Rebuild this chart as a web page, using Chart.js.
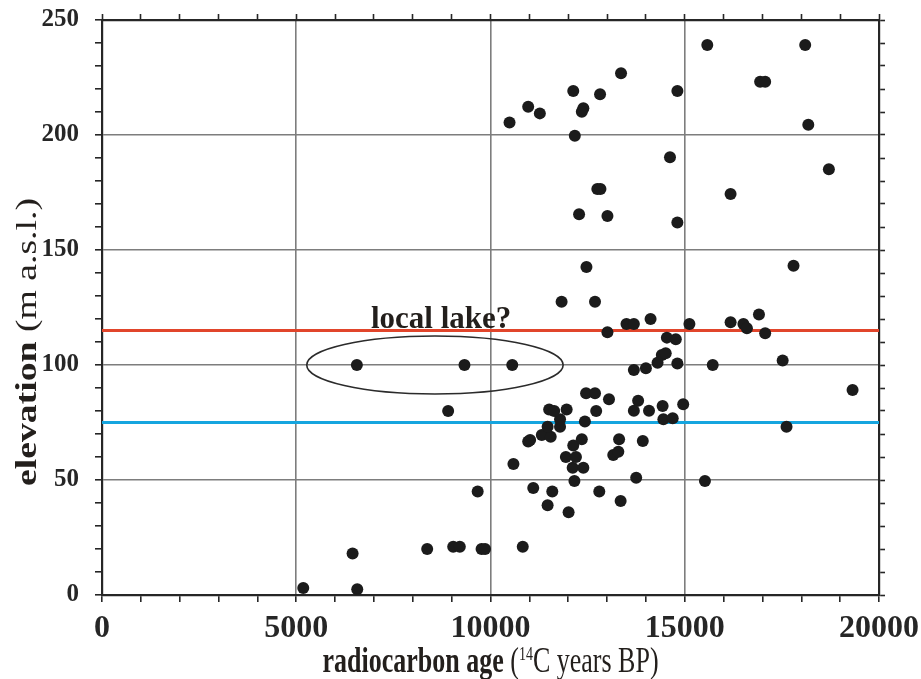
<!DOCTYPE html>
<html lang="en">
<head>
<meta charset="UTF-8">
<title>Radiocarbon age vs elevation</title>
<script src="https://cdn.jsdelivr.net/npm/chart.js"></script>
<style>
  html, body { margin: 0; padding: 0; background: #fff; }
  #wrap { width: 921px; height: 679px; }
</style>
</head>
<body>
<div id="wrap"><canvas id="grafico"></canvas></div>
<script>
// radiocarbon ages (14C years BP) and elevations (m a.s.l.)
const idades = [
  5180, 6570, 6450, 8370, 9040, 9210, 9770, 9860, 10830,
  6560, 9330, 10560, 8910, 9670, 10590, 11100, 11590, 11470, 12010, 12800,
  12160, 12115, 12390, 11940, 12200, 12130, 12350, 11020, 10970, 11320,
  11550, 11470, 11790, 11790, 12430, 11510, 11640, 11960, 12720, 12460,
  12690, 11830, 12690, 12470, 12280, 13010, 14810, 12750, 12830, 14620,
  12170, 10490, 10970, 11270, 12130, 12390, 12350, 12820, 13360, 14810,
  15580, 18100, 16940, 17070, 18180, 18710, 16180, 17800, 13010, 13500,
  13690, 14120, 15120, 16180, 16510, 16600, 16910, 17070, 14540, 14770,
  14410, 14510, 14300, 14810, 14000, 13690, 15720, 17520, 19320, 14960,
  13050, 13800, 13690, 14080, 14430, 14450, 14690, 17620, 13310, 13920,
  13160, 13290, 13750, 15520, 13350
];
const elevacoes = [
  3, 2.5, 18, 20, 21, 21, 20, 20, 21,
  100, 100, 100, 80, 45, 57, 46.5, 45, 39, 36, 45,
  49.6, 55.3, 55.3, 60, 60, 65, 67.7, 67.4, 66.7, 69.6,
  68.8, 73.2, 73.2, 76.4, 75.4, 80.7, 80, 80.7, 80, 87.7,
  87.7, 127.5, 127.5, 142.6, 165.5, 164.8, 162, 176.5, 176.5, 190.3,
  199.7, 205.4, 212.3, 209.4, 219.1, 211.6, 210.1, 217.7, 226.8, 219.1,
  239.1, 239.1, 223.2, 223.2, 204.5, 185.1, 174.3, 143.2, 114.2, 117.8,
  117.8, 120, 117.8, 118.6, 117.8, 116, 122, 113.8, 111.9, 111.2,
  104.3, 105.1, 101, 100.7, 98.6, 97.8, 100, 102, 89.1, 82.9,
  85.1, 84.5, 80.1, 80.1, 82.2, 76.4, 76.8, 73.2, 67.7, 67,
  60.9, 62.3, 51, 49.6, 40.9
];

// horizontal reference levels (m a.s.l.): upper (red) and lower (blue)
const niveis = [115, 75];
const faixaX = [0, 20000];
const faixaY = [0, 250];

// "local lake?" annotation: ellipse centre / half axes in data units, label position
const elipseLago = [8570, 100, 3300, 12.6];
const textoLago = 'local lake?';
const posTextoLago = [8730, 116.3];

const fonte = '"Liberation Serif", "Times New Roman", serif';
const pontos = idades.map((x, i) => ({ x: x, y: elevacoes[i] }));

// annotations + axis titles (mixed bold / normal, superscript)
const anotacoes = {
  id: 'anotacoes',
  afterDatasetsDraw(chart) {
    const ctx = chart.ctx;
    const sx = chart.scales.x;
    const sy = chart.scales.y;

    // ellipse around the three points at 100 m
    const cx = sx.getPixelForValue(elipseLago[0]);
    const cy = sy.getPixelForValue(elipseLago[1]);
    const rx = sx.getPixelForValue(elipseLago[0] + elipseLago[2]) - cx;
    const ry = cy - sy.getPixelForValue(elipseLago[1] + elipseLago[3]);
    ctx.save();
    ctx.strokeStyle = '#2b2b2b';
    ctx.lineWidth = 1.6;
    ctx.beginPath();
    ctx.ellipse(cx, cy, rx, ry, 0, 0, Math.PI * 2);
    ctx.stroke();

    ctx.fillStyle = '#231f1c';
    ctx.font = 'bold 31px ' + fonte;
    ctx.textAlign = 'center';
    ctx.textBaseline = 'alphabetic';
    ctx.fillText(textoLago, sx.getPixelForValue(posTextoLago[0]), sy.getPixelForValue(posTextoLago[1]));
    ctx.restore();
  },
  afterDraw(chart) {
    const ctx = chart.ctx;
    const area = chart.chartArea;
    ctx.save();
    ctx.fillStyle = '#231f1c';
    ctx.textBaseline = 'alphabetic';
    ctx.textAlign = 'left';

    // x title, glyphs a little taller than wide like the original
    const partes = [
      ['radiocarbon age ', 'bold 26px ' + fonte, 0],
      ['(', '26px ' + fonte, 0],
      ['14', '14px ' + fonte, -9],
      ['C years BP)', '26px ' + fonte, 0]
    ];
    let total = 0;
    partes.forEach(p => { ctx.font = p[1]; total += ctx.measureText(p[0]).width; });
    ctx.save();
    ctx.translate(0, 672);
    ctx.scale(1, 1.35);
    let xx = (area.left + area.right) / 2 - total / 2;
    partes.forEach(p => {
      ctx.font = p[1];
      ctx.fillText(p[0], xx, p[2]);
      xx += ctx.measureText(p[0]).width;
    });
    ctx.restore();

    // y title (rotated, stretched along its length)
    const partesY = [
      ['elevation ', 'bold 29px ' + fonte],
      ['(m a.s.l.)', '29px ' + fonte]
    ];
    let totalY = 0;
    partesY.forEach(p => { ctx.font = p[1]; totalY += ctx.measureText(p[0]).width; });
    ctx.translate(36, 342);
    ctx.rotate(-Math.PI / 2);
    ctx.scale(1.3, 1);
    let yy = -totalY / 2;
    partesY.forEach(p => {
      ctx.font = p[1];
      ctx.fillText(p[0], yy, 0);
      yy += ctx.measureText(p[0]).width;
    });
    ctx.restore();
  }
};

const corGrade = '#7d7d7d';
const corEixo = '#262626';

function gradeX(ctx) {
  const v = ctx.tick && ctx.tick.value;
  return (v % 5000 === 0 && v > faixaX[0] && v < faixaX[1]) ? corGrade : 'rgba(0,0,0,0)';
}
function gradeY(ctx) {
  const v = ctx.tick && ctx.tick.value;
  return (v % 50 === 0 && v > faixaY[0] && v < faixaY[1]) ? corGrade : 'rgba(0,0,0,0)';
}

// pin each axis box so the plot area sits where it does in the figure
function fixar(tam, lado) {
  return s => {
    s[lado] = tam;
    s.paddingLeft = 0; s.paddingRight = 0;
    s.paddingTop = 0; s.paddingBottom = 0;
  };
}

new Chart(document.getElementById('grafico'), {
  type: 'scatter',
  data: {
    datasets: [
      {
        label: 'samples',
        data: pontos,
        backgroundColor: '#1b1b1b',
        borderWidth: 0,
        pointRadius: 6,
        pointHoverRadius: 6
      },
      {
        label: 'upper level',
        type: 'line',
        data: faixaX.map(x => ({ x: x, y: niveis[0] })),
        borderColor: '#e1452b',
        borderWidth: 3.2,
        pointRadius: 0,
        fill: false
      },
      {
        label: 'lower level',
        type: 'line',
        data: faixaX.map(x => ({ x: x, y: niveis[1] })),
        borderColor: '#15a5df',
        borderWidth: 3.2,
        pointRadius: 0,
        fill: false
      }
    ]
  },
  options: {
    responsive: true,
    maintainAspectRatio: false,
    animation: false,
    layout: { padding: 0 },
    plugins: {
      legend: { display: false },
      tooltip: { enabled: false },
      title: { display: false }
    },
    scales: {
      x: {
        type: 'linear',
        position: 'bottom',
        min: faixaX[0],
        max: faixaX[1],
        afterFit: fixar(84, 'height'),
        ticks: {
          stepSize: 1000,
          autoSkip: false,
          maxRotation: 0,
          padding: 8,
          color: corEixo,
          font: { family: fonte, size: 32, weight: 'bold' },
          callback: v => (v % 5000 === 0 ? v : '')
        },
        grid: { color: gradeX, lineWidth: 1.6, tickColor: corEixo, tickLength: 7, tickWidth: 1.6 },
        border: { color: corEixo, width: 2.2 }
      },
      x2: {
        type: 'linear',
        position: 'top',
        min: faixaX[0],
        max: faixaX[1],
        afterFit: fixar(20, 'height'),
        ticks: { stepSize: 1000, autoSkip: false, display: false },
        grid: { color: 'rgba(0,0,0,0)', tickColor: corEixo, tickLength: 6, tickWidth: 1.6 },
        border: { color: corEixo, width: 2.2 }
      },
      y: {
        type: 'linear',
        position: 'left',
        min: faixaY[0],
        max: faixaY[1],
        afterFit: fixar(102, 'width'),
        ticks: {
          stepSize: 10,
          autoSkip: false,
          padding: 16,
          color: corEixo,
          font: { family: fonte, size: 25, weight: 'bold' },
          callback: v => (v % 50 === 0 ? v : '')
        },
        grid: { color: gradeY, lineWidth: 1.6, tickColor: corEixo, tickLength: 7, tickWidth: 1.6 },
        border: { color: corEixo, width: 2.2 }
      },
      y2: {
        type: 'linear',
        position: 'right',
        min: faixaY[0],
        max: faixaY[1],
        afterFit: fixar(42, 'width'),
        ticks: { stepSize: 10, autoSkip: false, display: false },
        grid: { color: 'rgba(0,0,0,0)', tickColor: corEixo, tickLength: 6, tickWidth: 1.6 },
        border: { color: corEixo, width: 2.2 }
      }
    }
  },
  plugins: [anotacoes]
});
</script>
</body>
</html>
